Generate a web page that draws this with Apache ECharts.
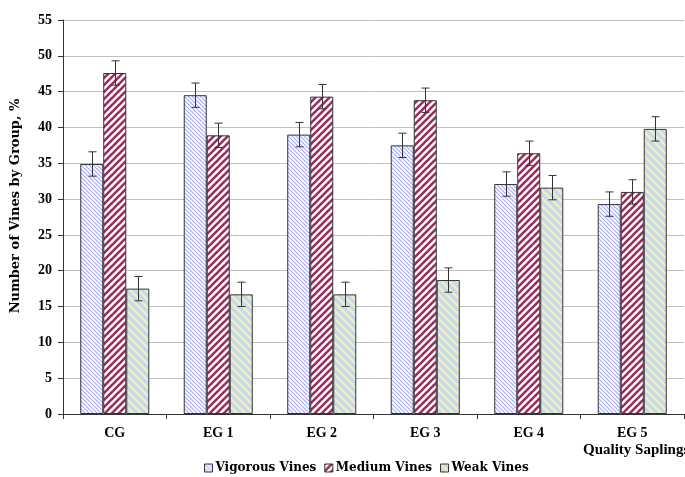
<!DOCTYPE html>
<html>
<head>
<meta charset="utf-8">
<script src="https://cdn.jsdelivr.net/npm/echarts@6/dist/echarts.min.js"></script>
<style>
  html, body { margin: 0; padding: 0; background: #fff; }
  #chart { width: 685px; height: 477px; }
</style>
</head>
<body>
<div id="chart"></div>
<script>
// Vine groups by sapling quality, % of vines in each vigour class
const categories = ['CG', 'EG 1', 'EG 2', 'EG 3', 'EG 4', 'EG 5'];
const seriesNames = ['Vigorous Vines', 'Medium Vines', 'Weak Vines'];
const vigorous = [34.9, 44.5, 39.0, 37.5, 32.1, 29.3];
const medium   = [47.6, 38.9, 44.3, 43.8, 36.4, 31.0];
const weak     = [17.5, 16.7, 16.7, 18.7, 31.6, 39.8];
const vigorousErr = [1.7, 1.7, 1.7, 1.7, 1.7, 1.7];
const mediumErr   = [1.7, 1.7, 1.7, 1.7, 1.7, 1.7];
const weakErr     = [1.7, 1.7, 1.7, 1.7, 1.7, 1.7];
const yTicks = { min: 0, max: 55, interval: 5 };

const FONT = '"Liberation Serif", "Times New Roman", serif';
const WIDE = '"DejaVu Serif", "Liberation Serif", serif';

// Diagonal hatch tiles for the bar fills
function hatch(size, bg, fg, width, dir) {
  const c = document.createElement('canvas');
  c.width = size; c.height = size;
  const ctx = c.getContext('2d');
  ctx.fillStyle = bg;
  ctx.fillRect(0, 0, size, size);
  ctx.strokeStyle = fg;
  ctx.lineWidth = width;
  for (let k = -1; k <= 1; k++) {
    const x0 = k * size;
    ctx.beginPath();
    if (dir === '/') {
      ctx.moveTo(x0 - 1, size + 1);
      ctx.lineTo(x0 + size + 1, -1);
    } else {
      ctx.moveTo(x0 - 1, -1);
      ctx.lineTo(x0 + size + 1, size + 1);
    }
    ctx.stroke();
  }
  return { image: c, repeat: 'repeat' };
}

const fills = [
  hatch(4, '#ffffff', '#a9a9f5', 1.1, '\\'),
  hatch(7, '#ffffff', '#9b2d5e', 2.6, '/'),
  hatch(8, '#c7d8ef', '#f3f0b4', 2.4, '\\')
];
const values = [vigorous, medium, weak];
const errors = [vigorousErr, mediumErr, weakErr];

const categoryGap = 0.333;

function errorSeries(idx) {
  return {
    type: 'custom',
    name: seriesNames[idx] + ' error',
    z: 5,
    silent: true,
    data: values[idx].map((v, i) => [i, v, errors[idx][i]]),
    renderItem: function (params, api) {
      const x = api.value(0);
      const v = api.value(1);
      const e = api.value(2);
      const band = api.size([1, 0])[0];
      const bw = band * (1 - categoryGap) / 3;
      const off = (idx - 1) * bw;
      const hi = api.coord([x, v + e]);
      const lo = api.coord([x, v - e]);
      const cx = Math.round(hi[0] + off) + 0.5;
      const cap = 4;
      const style = { stroke: '#333', lineWidth: 1 };
      return {
        type: 'group',
        children: [
          { type: 'line', shape: { x1: cx, y1: hi[1], x2: cx, y2: lo[1] }, style: style },
          { type: 'line', shape: { x1: cx - cap, y1: hi[1], x2: cx + cap, y2: hi[1] }, style: style },
          { type: 'line', shape: { x1: cx - cap, y1: lo[1], x2: cx + cap, y2: lo[1] }, style: style }
        ]
      };
    }
  };
}

const barSeries = values.map((arr, idx) => ({
  type: 'bar',
  name: seriesNames[idx],
  data: arr,
  barGap: '0%',
  barCategoryGap: (categoryGap * 100) + '%',
  itemStyle: { color: fills[idx], borderColor: '#333', borderWidth: 1 }
}));

const chart = echarts.init(document.getElementById('chart'), null, { renderer: 'canvas' });
chart.setOption({
  animation: false,
  backgroundColor: '#fff',
  grid: { left: 63, right: 1, top: 20, bottom: 63 },
  legend: {
    data: seriesNames,
    left: 199,
    top: 457,
    icon: 'rect',
    itemWidth: 8,
    itemHeight: 8,
    itemGap: 8,
    textStyle: { fontFamily: WIDE, fontWeight: 'bold', fontSize: 12, color: '#000', padding: [0, 0, 0, -2] },
    itemStyle: { borderColor: '#333', borderWidth: 1 }
  },
  xAxis: {
    type: 'category',
    data: categories,
    axisLine: { lineStyle: { color: '#333', width: 1 } },
    axisTick: { show: true, alignWithLabel: false, length: 5, lineStyle: { color: '#333' } },
    axisLabel: { fontFamily: FONT, fontWeight: 'bold', fontSize: 14, color: '#000', margin: 12 },
    splitLine: { show: false }
  },
  yAxis: {
    type: 'value',
    min: yTicks.min,
    max: yTicks.max,
    interval: yTicks.interval,
    axisLine: { show: true, lineStyle: { color: '#333', width: 1 } },
    axisTick: { show: true, length: 5, lineStyle: { color: '#333' } },
    axisLabel: { fontFamily: FONT, fontWeight: 'bold', fontSize: 14, color: '#000', margin: 11 },
    splitLine: { show: true, lineStyle: { color: '#c0c0c0', width: 1 } }
  },
  graphic: [{
    type: 'text',
    x: 16,
    y: 206,
    rotation: Math.PI / 2,
    style: {
      text: 'Number of Vines by Group, %',
      fontFamily: WIDE, fontWeight: 'bold', fontSize: 13, fill: '#000',
      align: 'center', verticalAlign: 'middle'
    }
  }, {
    type: 'text',
    left: 583,
    top: 443,
    style: { text: 'Quality Saplings', fontFamily: FONT, fontWeight: 'bold', fontSize: 15, fill: '#000' }
  }],
  series: barSeries.concat([0, 1, 2].map(errorSeries))
});
</script>
</body>
</html>
